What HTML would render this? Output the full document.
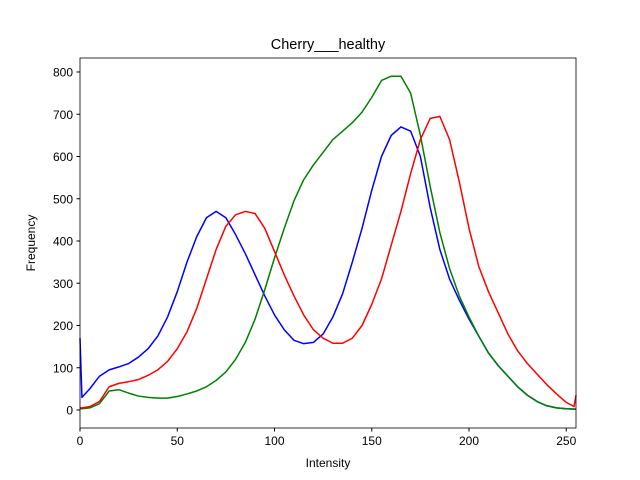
<!DOCTYPE html>
<html><head><meta charset="utf-8"><style>
body{margin:0;background:#fff;}
svg{display:block;font-family:"Liberation Sans","DejaVu Sans",sans-serif;}
</style></head><body>
<svg id="chart" width="640" height="480">
<rect width="640" height="480" fill="#fff"/>
<text x="328" y="49" font-size="14.5" text-anchor="middle">Cherry___healthy</text>
<text x="328" y="467" font-size="12" text-anchor="middle">Intensity</text>
<text x="0" y="0" font-size="12" text-anchor="middle" transform="translate(35,243) rotate(-90)">Frequency</text>
<g id="ticks"></g>
<g id="lines"></g>
<rect x="80" y="58" width="496" height="370" fill="none" stroke="#000" stroke-width="0.8"/>
</svg>
<script>
const xs=[0,1,5,10,15,20,25,30,35,40,45,50,55,60,65,70,75,80,85,90,95,100,105,110,115,120,125,130,135,140,145,150,155,160,165,170,175,180,185,190,195,200,205,210,215,220,225,230,235,240,245,250,254,255];
const blue=[170,30,50,80,95,102,110,125,145,175,220,280,350,410,455,470,455,415,370,320,270,225,190,165,157,160,180,220,275,350,430,520,600,650,670,660,600,480,380,310,260,215,175,135,105,80,55,35,20,10,5,3,2,2];
const red=[5,5,8,20,55,63,67,72,82,95,115,145,185,240,310,380,435,462,470,465,430,375,320,270,225,190,170,158,158,170,200,250,310,390,470,560,640,690,695,640,540,430,340,280,230,180,140,110,85,60,38,18,8,35];
const green=[3,3,5,15,45,48,40,33,30,28,28,32,38,45,55,70,90,120,160,215,285,360,430,495,545,580,610,640,660,680,705,740,780,790,790,750,650,530,420,335,270,220,175,135,105,80,55,35,20,10,5,3,2,2];
const xTicks=[0,50,100,150,200,250];
const yTicks=[0,100,200,300,400,500,600,700,800];
const X=v=>80+v*496/255, Y=v=>410-v*0.4225;
const ns="http://www.w3.org/2000/svg";
const tg=document.getElementById('ticks'), lg=document.getElementById('lines');
xTicks.forEach(t=>{
 const l=document.createElementNS(ns,'line');
 l.setAttribute('x1',X(t));l.setAttribute('x2',X(t));l.setAttribute('y1',428);l.setAttribute('y2',431.5);l.setAttribute('stroke','#000');
 
 
 tg.appendChild(l);
 const s=document.createElementNS(ns,'text');
 s.setAttribute('x',X(t));s.setAttribute('y',445);s.setAttribute('font-size','12');s.setAttribute('text-anchor','middle');s.textContent=t;
 
 
 tg.appendChild(s);
});
yTicks.forEach(t=>{
 const l=document.createElementNS(ns,'line');
 l.setAttribute('x1',76.5);l.setAttribute('x2',80);l.setAttribute('y1',Y(t));l.setAttribute('y2',Y(t));l.setAttribute('stroke','#000');
 
 
 tg.appendChild(l);
 const s=document.createElementNS(ns,'text');
 s.setAttribute('x',73);s.setAttribute('y',Y(t)+4.5);s.setAttribute('font-size','12');s.setAttribute('text-anchor','end');s.textContent=t;
 
 
 tg.appendChild(s);
});
[[blue,'#0000ff','blue-channel-line'],[green,'#008000','green-channel-line'],[red,'#ff0000','red-channel-line']].forEach(([d,c,n])=>{
 const p=document.createElementNS(ns,'polyline');
 p.setAttribute('points',d.map((v,i)=>X(xs[i])+','+Y(v)).join(' '));
 p.setAttribute('fill','none');p.setAttribute('stroke',c);p.setAttribute('stroke-width','1.5');p.setAttribute('stroke-linejoin','round');
 
 
 lg.appendChild(p);
});
</script>
</body></html>
